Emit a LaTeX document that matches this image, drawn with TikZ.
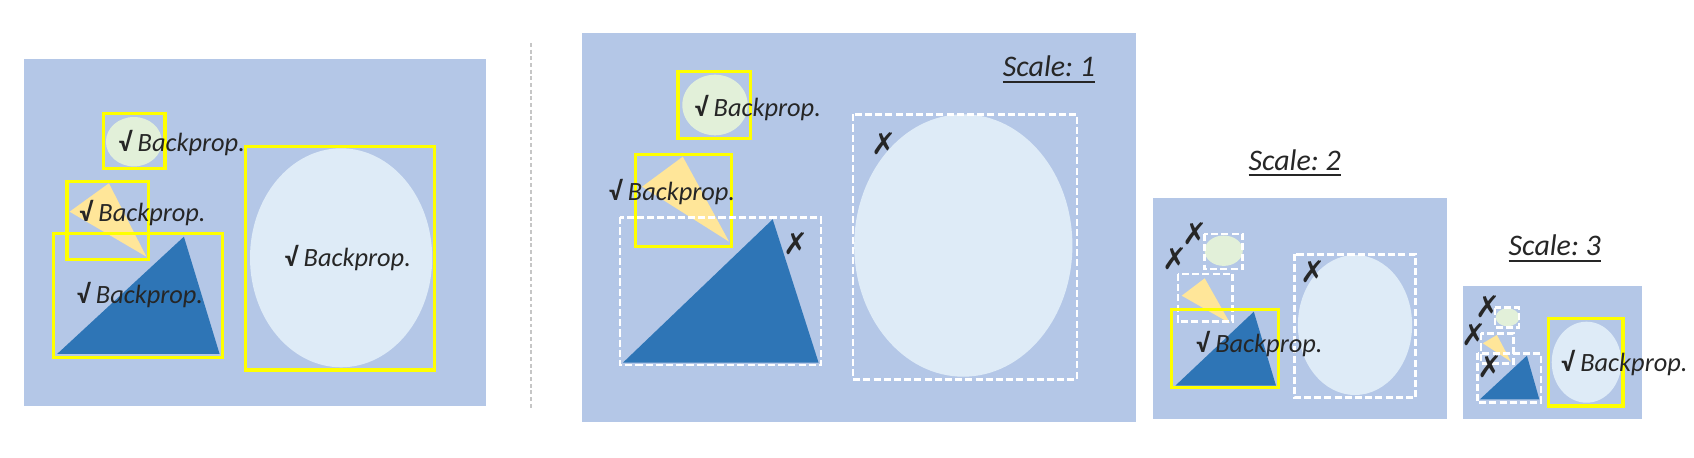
\documentclass[tikz,border=0pt]{standalone}
\usepackage{fontspec}
\setmainfont{Carlito}
\newfontfamily\djv{DejaVu Sans}
\frenchspacing
\definecolor{bgblue}{HTML}{B4C7E7}
\definecolor{pale}{HTML}{DEEBF7}
\definecolor{grn}{HTML}{E2F0D9}
\definecolor{org}{HTML}{FFE699}
\definecolor{tri}{HTML}{2E75B6}
\definecolor{yel}{HTML}{FFFF00}
\definecolor{txt}{HTML}{262626}
\tikzset{
  bgbox/.style={fill=bgblue, draw=none},
  ybox/.style={draw=yel, line width=0.95pt},
  wbox/.style={draw=white, line width=0.7pt, dash pattern=on 2pt off 0.9pt},
  lbl/.style={anchor=west, inner sep=0pt, font=\fontsize{7.5}{8}\selectfont\itshape, text=txt},
  xmk/.style={inner sep=0pt, font=\djv\fontsize{8.5}{9}\selectfont, text=txt},
  sclbl/.style={inner sep=0pt, font=\fontsize{8.5}{10}\selectfont\itshape, text=txt},
}
\newcommand{\bp}{{\upshape\bfseries √} Backprop.}
\begin{document}
\begin{tikzpicture}[x=0.01cm, y=-0.01cm]
\useasboundingbox (0,0) rectangle (1694,458);
% ---------- Panel 1 ----------
\fill[bgbox] (23.6,59) rectangle (486.4,405.7);
\fill[grn] (133.9,141.7) ellipse [x radius=28, y radius=24.7];
\fill[org] (69.6,211.7) -- (108.9,183.3) -- (146.4,256.7) -- cycle;
\fill[tri] (57.1,354) -- (183.9,236.7) -- (219.6,354) -- cycle;
\fill[pale] (341.1,257.8) ellipse [x radius=91.1, y radius=109.5];
\draw[ybox] (103.6,113.3) rectangle (165,168.3);
\draw[ybox] (67.1,181.7) rectangle (148.2,259.3);
\draw[ybox] (53.6,233.3) rectangle (222.5,357.3);
\draw[ybox] (245.7,146.7) rectangle (434.6,370);
\node[lbl] (p1a) at (117.9,143.3) {\bp};
\node[lbl] (p1b) at (78.6,213.3) {\bp};
\node[lbl] (p1c) at (76.1,295) {\bp};
\node[lbl] (p1d) at (283.9,258.3) {\bp};
% separator
\coordinate (s1) at (531.4,43);
\coordinate (s2) at (531.4,410);
\draw[gray!45, line width=0.6pt, dash pattern=on 1.1pt off 0.8pt] (s1) -- (s2);
% ---------- Panel 2 ----------
\fill[bgbox] (581.8,32.7) rectangle (1136,421.7);
\fill[grn] (715,105) ellipse [x radius=32.7, y radius=30.3];
\fill[org] (642.1,186.7) -- (682.8,156.7) -- (729.1,241.7) -- cycle;
\fill[tri] (622.9,362.7) -- (772.7,219.3) -- (818.6,362.7) -- cycle;
\fill[pale] (963.3,245.5) ellipse [x radius=109.1, y radius=131.2];
\draw[ybox] (678,71.7) rectangle (750.2,138.3);
\draw[ybox] (635.5,154.3) rectangle (731.7,246.7);
\draw[wbox] (620,217.3) rectangle (820.8,365);
\draw[wbox] (853,114.3) rectangle (1076.8,379.3);
\node[lbl] (p2a) at (693.9,108.3) {\bp};
\node[lbl] (p2b) at (608.1,191.7) {\bp};
\node[xmk] (x2a) at (795.7,244) {✗};
\node[xmk] (x2b) at (884.5,143.3) {✗};
\node[sclbl] (sc1) at (1049,70) {\underline{Scale: 1}};
% ---------- Panel 3 ----------
\node[sclbl] (sc2) at (1294.6,163.3) {\underline{Scale: 2}};
\fill[bgbox] (1153.1,198.3) rectangle (1446.7,418.7);
\fill[grn] (1223.7,250.7) ellipse [x radius=19.1, y radius=15.2];
\fill[org] (1181.7,295.7) -- (1204.7,278.3) -- (1230.1,323.3) -- cycle;
\fill[tri] (1175.3,385.7) -- (1253.8,311.7) -- (1276,385.7) -- cycle;
\fill[pale] (1355,325) ellipse [x radius=57.1, y radius=70];
\draw[wbox] (1204.3,234) rectangle (1242.5,269);
\draw[wbox] (1177.8,274) rectangle (1232.6,321.7);
\draw[ybox] (1171.8,309.3) rectangle (1278.5,387.7);
\draw[wbox] (1294.4,254.3) rectangle (1415.6,397.7);
\node[xmk] (x3a) at (1194.8,233.3) {✗};
\node[xmk] (x3b) at (1175.3,258.3) {✗};
\node[xmk] (x3c) at (1313.1,271.7) {✗};
\node[lbl] (p3a) at (1195.5,344.3) {\bp};
% ---------- Panel 4 ----------
\node[sclbl] (sc3) at (1554.8,249) {\underline{Scale: 3}};
\fill[bgbox] (1463.3,285.7) rectangle (1641.8,418.7);
\fill[grn] (1507.5,317.3) ellipse [x radius=11.8, y radius=9];
\fill[org] (1482.8,343.3) -- (1496.9,335) -- (1511,361.7) -- cycle;
\fill[tri] (1479.9,399.3) -- (1526.9,355.7) -- (1539.3,399.3) -- cycle;
\fill[pale] (1586.5,362.2) ellipse [x radius=34.8, y radius=40.5];
\draw[wbox] (1495.1,307.7) rectangle (1519.2,327.3);
\draw[wbox] (1481,333.3) rectangle (1513.5,363.3);
\draw[wbox] (1477.5,353.3) rectangle (1541.1,402.7);
\draw[ybox] (1548.8,318.3) rectangle (1623,406);
\node[xmk] (x4a) at (1488.1,306.7) {✗};
\node[xmk] (x4b) at (1473.9,335) {✗};
\node[xmk] (x4c) at (1489.8,366.7) {✗};
\node[lbl] (p4a) at (1560.5,363.3) {\bp};
\end{tikzpicture}
\end{document}
